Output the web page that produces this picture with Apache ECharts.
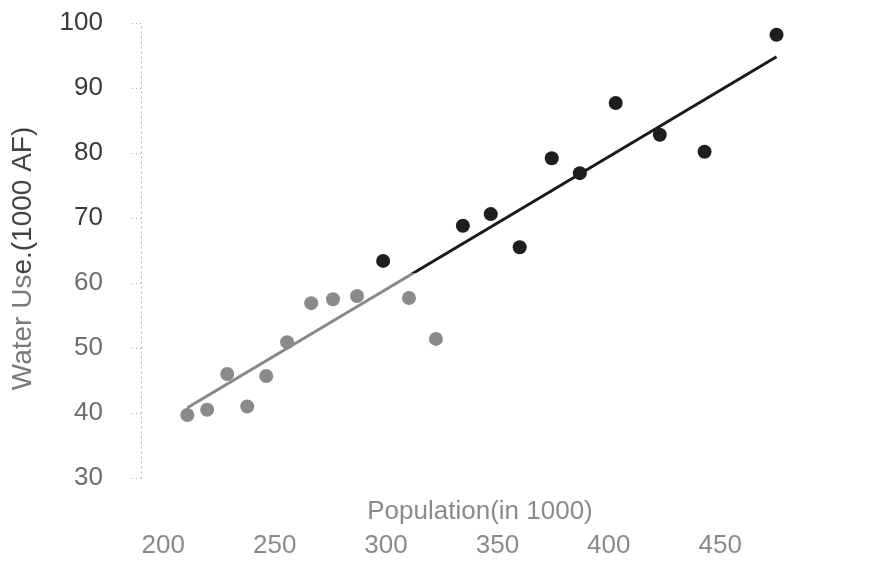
<!DOCTYPE html>
<html>
<head>
<meta charset="utf-8">
<script src="https://cdn.jsdelivr.net/npm/echarts@6/dist/echarts.min.js"></script>
<style>html,body{margin:0;padding:0;background:#fff}#c{width:880px;height:581px}</style>
</head>
<body>
<div id="c"></div>
<script>
var population = [210.8, 219.7, 228.7, 237.7, 246.2, 255.6, 266.4, 276.2, 287.0, 298.7, 310.3, 322.4, 334.5, 347.0, 360.0, 374.4, 387.0, 403.1, 422.9, 443.0, 475.3];
var waterUse   = [39.7, 40.5, 46.0, 41.0, 45.7, 50.9, 56.9, 57.5, 58.0, 63.4, 57.7, 51.4, 68.8, 70.6, 65.5, 79.2, 76.9, 87.7, 82.8, 80.2, 98.2];
var fitX = [210.8, 475.3];
var fitY = [40.8, 94.8];
var xTicks = [200, 250, 300, 350, 400, 450];

var pts = population.map(function (x, i) { return [x, waterUse[i]]; });
var fit = fitX.map(function (x, i) { return [x, fitY[i]]; });

var chart = echarts.init(document.getElementById('c'), null, {renderer: 'canvas'});
chart.setOption({
  backgroundColor: '#ffffff',
  animation: false,
  textStyle: {fontFamily: 'Liberation Sans'},
  grid: {left: 141, right: 93, top: 23, bottom: 103},
  xAxis: {
    type: 'value', min: 190, max: 480,
    name: 'Population(in 1000)', nameLocation: 'middle', nameGap: 21, nameMoveOverlap: false,
    nameTextStyle: {color: '#8a8a8a', fontSize: 26, padding: [0, 0, 0, 32]},
    axisLine: {show: false}, axisTick: {show: false}, splitLine: {show: false},
    axisLabel: {customValues: xTicks, margin: 55, color: '#8a8a8a', fontSize: 26}
  },
  yAxis: {
    type: 'value', min: 30, max: 100, interval: 10,
    name: '{a|Water Us}{b|e.(1000 AF)}', nameLocation: 'middle', nameGap: 104, nameMoveOverlap: false,
    nameTextStyle: {fontSize: 28, padding: [0, 16, 0, 0], rich: {a: {color: '#7a7a7a', fontSize: 28}, b: {color: '#444', fontSize: 28}}},
    axisLine: {show: true, lineStyle: {color: '#b0b0b0', type: [1, 4], width: 1}},
    axisTick: {show: true, length: 9, lineStyle: {color: '#aaaaaa', type: [1, 3]}},
    splitLine: {show: false},
    axisLabel: {margin: 38, fontSize: 26, color: function (v) { return v >= 70 ? '#3a3a3a' : '#6e6e6e'; }}
  },
  series: [
    {type: 'line', data: fit, showSymbol: false, symbol: 'none', z: 1,
     lineStyle: {width: 3, color: new echarts.graphic.LinearGradient(0, 0, 0, 581, [
       {offset: 0, color: '#1a1a1a'}, {offset: 0.47, color: '#1a1a1a'},
       {offset: 0.47, color: '#888888'}, {offset: 1, color: '#888888'}], true)}},
    {type: 'scatter', data: pts, symbolSize: 14, z: 2,
     itemStyle: {opacity: 1, color: function (p) { return p.value[1] >= 62 ? '#1e1e1e' : '#8a8a8a'; }}}
  ]
});
</script>
</body>
</html>
